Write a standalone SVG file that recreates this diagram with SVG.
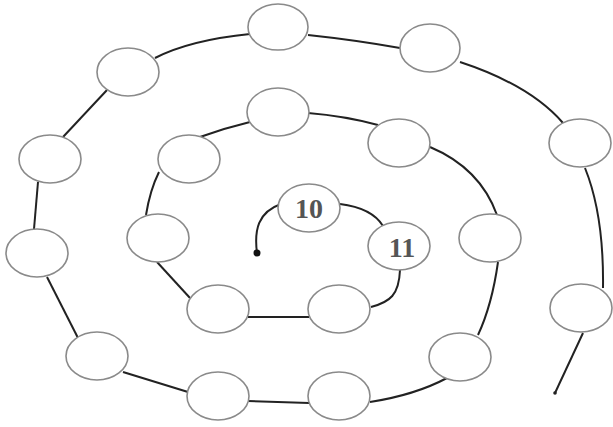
<svg xmlns="http://www.w3.org/2000/svg" width="613" height="427" viewBox="0 0 613 427">
<style>
.n ellipse{fill:#fff;stroke:#8a8a8a;stroke-width:1.6}
.c path{fill:none;stroke:#222;stroke-width:2}
.t{font-family:"Liberation Serif","DejaVu Serif",serif;font-size:28px;font-weight:bold;fill:#555;text-anchor:middle;dominant-baseline:central}
</style>
<rect width="613" height="427" fill="#fff"/>
<g id="connectors" class="c">
<path d="M257,253 C254,230 258,212 281,204"/>
<path d="M340,204 Q372,208 383,226"/>
<path d="M400,270 C399,295 390,302 371,307"/>
<path d="M248,317 L309,317"/>
<path d="M157,262 L190,298"/>
<path d="M146,215 Q150,190 159,172"/>
<path d="M200,137 Q225,128 250,122"/>
<path d="M308,113 Q345,116 378,125"/>
<path d="M430,147 Q480,168 497,215"/>
<path d="M498,262 Q492,305 478,335"/>
<path d="M447,378 Q415,395 370,402"/>
<path d="M248,401 L309,403"/>
<path d="M123,372 L188,392"/>
<path d="M47,277 L78,338"/>
<path d="M38,182 L34,229"/>
<path d="M63,137 L107,90"/>
<path d="M155,58 Q190,40 250,34"/>
<path d="M308,35 Q355,40 400,48"/>
<path d="M460,62 Q530,85 563,123"/>
<path d="M585,168 Q604,215 603,288"/>
<path d="M583,333 L555,393"/>
<circle cx="257" cy="253" r="3.5" fill="#111"/>
<circle cx="555" cy="393" r="1.8" fill="#222"/>
</g>
<g id="n10" class="n"><ellipse cx="309" cy="208" rx="31" ry="24"/><text class="t" x="309" y="208">10</text></g>
<g id="n11" class="n"><ellipse cx="399" cy="246" rx="31" ry="24"/><text class="t" x="402" y="247">11</text></g>
<g id="n12" class="n"><ellipse cx="339" cy="309" rx="31" ry="24"/></g>
<g id="n13" class="n"><ellipse cx="218" cy="309" rx="31" ry="24"/></g>
<g id="n14" class="n"><ellipse cx="158" cy="238" rx="31" ry="24"/></g>
<g id="n15" class="n"><ellipse cx="189" cy="159" rx="31" ry="24"/></g>
<g id="n16" class="n"><ellipse cx="278" cy="112" rx="31" ry="24"/></g>
<g id="n17" class="n"><ellipse cx="399" cy="143" rx="31" ry="24"/></g>
<g id="n18" class="n"><ellipse cx="490" cy="238" rx="31" ry="24"/></g>
<g id="n19" class="n"><ellipse cx="460" cy="357" rx="31" ry="24"/></g>
<g id="n20" class="n"><ellipse cx="339" cy="396" rx="31" ry="24"/></g>
<g id="n21" class="n"><ellipse cx="218" cy="396" rx="31" ry="24"/></g>
<g id="n22" class="n"><ellipse cx="97" cy="356" rx="31" ry="24"/></g>
<g id="n23" class="n"><ellipse cx="37" cy="253" rx="31" ry="24"/></g>
<g id="n24" class="n"><ellipse cx="50" cy="159" rx="31" ry="24"/></g>
<g id="n25" class="n"><ellipse cx="128" cy="72" rx="31" ry="24"/></g>
<g id="n26" class="n"><ellipse cx="278" cy="27" rx="30" ry="23"/></g>
<g id="n27" class="n"><ellipse cx="430" cy="48" rx="30" ry="24"/></g>
<g id="n28" class="n"><ellipse cx="580" cy="143" rx="31" ry="24"/></g>
<g id="n29" class="n"><ellipse cx="581" cy="308" rx="31" ry="24"/></g>
</svg>
